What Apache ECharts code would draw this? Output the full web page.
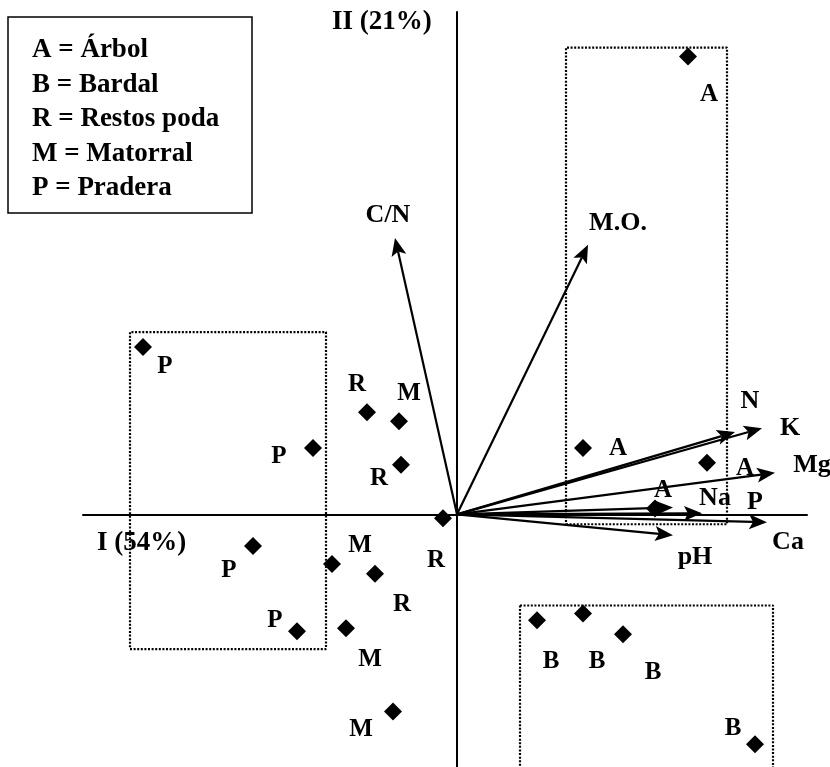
<!DOCTYPE html>
<html><head><meta charset="utf-8">
<script src="https://cdn.jsdelivr.net/npm/echarts@6/dist/echarts.min.js"></script>
<style>html,body{margin:0;padding:0;background:#fff}#c{width:830px;height:767px}</style>
</head><body><div id="c"></div>
<script>
// ---- Data (PCA scores, axis I horizontal, axis II vertical) ----
const groupA = [[2.31, 4.62], [1.26, 0.67], [2.50, 0.52], [1.98, 0.06]];
const groupB = [[0.80, -1.07], [1.26, -1.00], [1.66, -1.21], [2.98, -2.32]];
const groupR = [[-0.90, 1.03], [-0.56, 0.50], [-0.14, -0.04], [-0.82, -0.60]];
const groupM = [[-0.58, 0.94], [-1.25, -0.50], [-1.11, -1.15], [-0.64, -1.99]];
const groupP = [[-3.14, 1.69], [-1.44, 0.67], [-2.04, -0.32], [-1.60, -1.18]];

const varNames = ['C/N', 'M.O.', 'N', 'K', 'Mg', 'Na', 'P', 'Ca', 'pH'];
const varX = [-0.62, 1.31, 2.78, 3.05, 3.18, 2.16, 2.45, 3.10, 2.16];
const varY = [2.79, 2.72, 0.83, 0.87, 0.42, 0.07, 0.01, -0.08, -0.21];

const legendLines = ['A = Árbol', 'B = Bardal', 'R = Restos poda', 'M = Matorral', 'P = Pradera'];
const axisTitleX = 'I (54%)';
const axisTitleY = 'II (21%)';

// group enclosures (x range, y range)
const boxA = { x: [1.09, 2.70], y: [-0.10, 4.71] };
const boxP = { x: [-3.27, -1.31], y: [-1.36, 1.84] };
const boxB = { x: [0.63, 3.16], y: [-0.92, -2.70] };

// ---- Layout (label offsets in px) ----
const offA = [[21, 38], [35, 1], [38, 6], [8, -18]];
const offB = [[14, 41], [14, 48], [30, 38], [-22, -16]];
const offR = [[-10, -28], [-22, 14], [-7, 42], [27, 31]];
const offM = [[10, -28], [28, -18], [24, 31], [-32, 18]];
const offP = [[22, 20], [-34, 9], [-24, 24], [-22, -11]];
const varLabelOffsets = [[-7, -23], [30, -22], [15, -31], [28, 0], [37, -7], [42, -9], [53, -11], [21, 20], [22, 22]];

const FONT = '"Liberation Serif","Times New Roman",Times,serif';

const groups = [
  { code: 'A', pts: groupA, offs: offA },
  { code: 'B', pts: groupB, offs: offB },
  { code: 'R', pts: groupR, offs: offR },
  { code: 'M', pts: groupM, offs: offM },
  { code: 'P', pts: groupP, offs: offP }
];

function boxPath(b) {
  return [[b.x[0], b.y[0]], [b.x[1], b.y[0]], [b.x[1], b.y[1]], [b.x[0], b.y[1]], [b.x[0], b.y[0]]];
}

const series = [];
[boxA, boxP, boxB].forEach(b => {
  series.push({
    type: 'line', data: boxPath(b), symbol: 'none', silent: true,
    lineStyle: { color: '#000', width: 2.2, type: [2, 1.6] }, z: 1, clip: true
  });
});

series.push({
  type: 'custom', coordinateSystem: 'cartesian2d', z: 3, silent: true,
  data: varNames.map((n, i) => [varX[i], varY[i]]),
  renderItem: function (params, api) {
    const o = api.coord([0, 0]);
    const t = api.coord([api.value(0), api.value(1)]);
    const dx = t[0] - o[0], dy = t[1] - o[1];
    const L = Math.hypot(dx, dy), ux = dx / L, uy = dy / L, nx = -uy, ny = ux;
    const HL = 18, HW = 7.5, NT = 4;
    const back = [t[0] - ux * HL, t[1] - uy * HL];
    const notch = [t[0] - ux * (HL - NT), t[1] - uy * (HL - NT)];
    const i = params.dataIndex;
    const off = varLabelOffsets[i];
    return {
      type: 'group', children: [
        { type: 'line', shape: { x1: o[0], y1: o[1], x2: notch[0], y2: notch[1] }, style: { stroke: '#000', lineWidth: 2.2 } },
        { type: 'polygon', shape: { points: [t, [back[0] + nx * HW, back[1] + ny * HW], notch, [back[0] - nx * HW, back[1] - ny * HW]] }, style: { fill: '#000' } },
        { type: 'text', x: t[0] + off[0], y: t[1] + off[1], style: { text: varNames[i], fill: '#000', font: 'bold 26px ' + FONT, align: 'center', verticalAlign: 'middle' } }
      ]
    };
  }
});

groups.forEach(g => {
  series.push({
    type: 'scatter', symbol: 'diamond', symbolSize: 18, z: 5, silent: true,
    itemStyle: { color: '#000', opacity: 1 },
    data: g.pts.map((p, i) => ({ value: p, label: { offset: g.offs[i] } })),
    label: {
      show: true, position: 'inside', formatter: g.code, color: '#000', opacity: 1,
      fontFamily: FONT, fontWeight: 'bold', fontSize: 25, align: 'center', verticalAlign: 'middle'
    }
  });
});

const graphic = [
  { type: 'rect', shape: { x: 8, y: 17, width: 244, height: 196 }, style: { fill: '#fff', stroke: '#000', lineWidth: 1.5 }, z: 10 }
];
legendLines.forEach((t, i) => {
  graphic.push({ type: 'text', x: 32, y: 50 + i * 34.6, z: 11, style: { text: t, fill: '#000', font: 'bold 27px ' + FONT, verticalAlign: 'middle' } });
});
graphic.push({ type: 'text', x: 332, y: 22, z: 11, style: { text: axisTitleY, fill: '#000', font: 'bold 27px ' + FONT, verticalAlign: 'middle' } });
graphic.push({ type: 'text', x: 97, y: 543, z: 11, style: { text: axisTitleX, fill: '#000', font: 'bold 27px ' + FONT, verticalAlign: 'middle' } });

const chart = echarts.init(document.getElementById('c'), null, { renderer: 'canvas' });
chart.setOption({
  animation: false,
  backgroundColor: '#fff',
  grid: { left: 83, right: 23, top: 12, bottom: 0, containLabel: false },
  xAxis: {
    type: 'value', min: -3.74, max: 3.50,
    axisLine: { show: true, onZero: true, lineStyle: { color: '#000', width: 2 } },
    axisTick: { show: false }, axisLabel: { show: false }, splitLine: { show: false }
  },
  yAxis: {
    type: 'value', min: -2.55, max: 5.07,
    axisLine: { show: true, onZero: true, lineStyle: { color: '#000', width: 2 } },
    axisTick: { show: false }, axisLabel: { show: false }, splitLine: { show: false }
  },
  graphic: graphic,
  series: series
});
</script>
</body></html>
